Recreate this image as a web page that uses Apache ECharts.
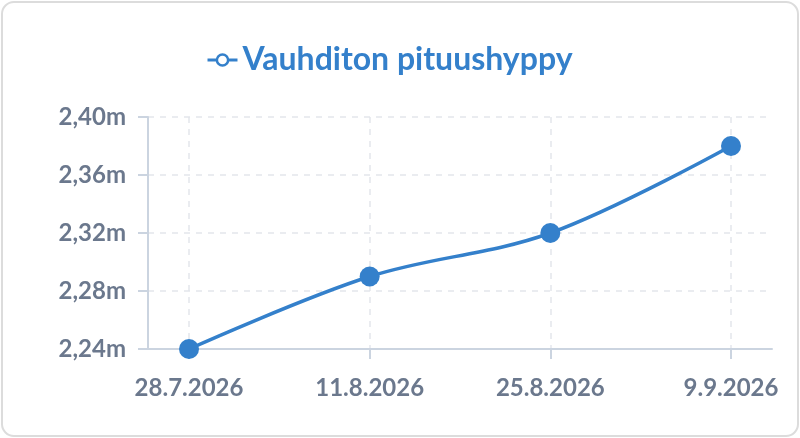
<!DOCTYPE html>
<html>
<head>
<meta charset="utf-8">
<script src="https://cdn.jsdelivr.net/npm/echarts@6/dist/echarts.min.js"></script>
<style>
  html, body { margin: 0; padding: 0; background: #fff; }
  #card { position: absolute; left: 1px; top: 1px; width: 794px; height: 432px; border: 2px solid #dcdcdc; border-radius: 13px; box-sizing: content-box; }
  #chart { position: absolute; left: 0; top: 0; width: 800px; height: 438px; }
</style>
</head>
<body>
<div id="card"></div>
<div id="chart"></div>
<script>
const seriesName = 'Vauhditon pituushyppy';
const categories = ['28.7.2026', '11.8.2026', '25.8.2026', '9.9.2026'];
const values = [2.24, 2.29, 2.32, 2.38];
const yTicks = [2.24, 2.28, 2.32, 2.36, 2.40];

const blue = '#3480cb';
const labelColor = '#6b788d';
const axisColor = '#cbd4e0';
const gridColor = '#e3e6ec';

const chart = echarts.init(document.getElementById('chart'), null, { renderer: 'canvas' });
const pad = 0.227;
chart.setOption({
  animation: false,
  textStyle: { fontFamily: 'Lato' },
  legend: {
    data: [seriesName],
    left: 201, top: 39,
    itemWidth: 30, itemHeight: 14, itemGap: 8,
    itemStyle: { color: '#fff', borderColor: blue, borderWidth: 2.5 },
    lineStyle: { width: 3 },
    textStyle: { color: blue, fontSize: 32, fontWeight: 'bold', fontFamily: 'Lato' }
  },
  grid: { left: 148, right: 28, top: 117, bottom: 89 },
  xAxis: {
    type: 'value',
    min: -pad, max: categories.length - 1 + pad,
    minInterval: 1, maxInterval: 1,
    axisLine: { show: true, lineStyle: { color: axisColor, width: 2 } },
    axisTick: { show: true, length: 10, customValues: categories.map((c, i) => i), lineStyle: { color: axisColor, width: 2 } },
    axisLabel: {
      customValues: categories.map((c, i) => i),
      formatter: v => (Number.isInteger(v) ? categories[v] : ''),
      color: labelColor, fontSize: 24, fontWeight: 'bold', fontFamily: 'Lato', margin: 27
    },
    splitLine: { show: true, lineStyle: { color: gridColor, type: [6, 6], width: 1.5 } }
  },
  yAxis: {
    type: 'value',
    min: yTicks[0], max: yTicks[yTicks.length - 1], interval: 0.04,
    axisLine: { show: true, onZero: false, lineStyle: { color: axisColor, width: 2 } },
    axisTick: { show: true, length: 10, lineStyle: { color: axisColor, width: 2 } },
    axisLabel: {
      formatter: v => v.toFixed(2).replace('.', ',') + 'm',
      color: labelColor, fontSize: 24, fontWeight: 'bold', fontFamily: 'Lato', margin: 22
    },
    splitLine: { show: true, lineStyle: { color: gridColor, type: [6, 6], width: 1.5 } }
  },
  series: [{
    name: seriesName,
    type: 'line',
    smooth: 0.35,
    data: values.map((v, i) => [i, v]),
    symbol: 'circle',
    symbolSize: 20,
    lineStyle: { color: blue, width: 3.5 },
    itemStyle: { color: blue }
  }]
});
</script>
</body>
</html>
